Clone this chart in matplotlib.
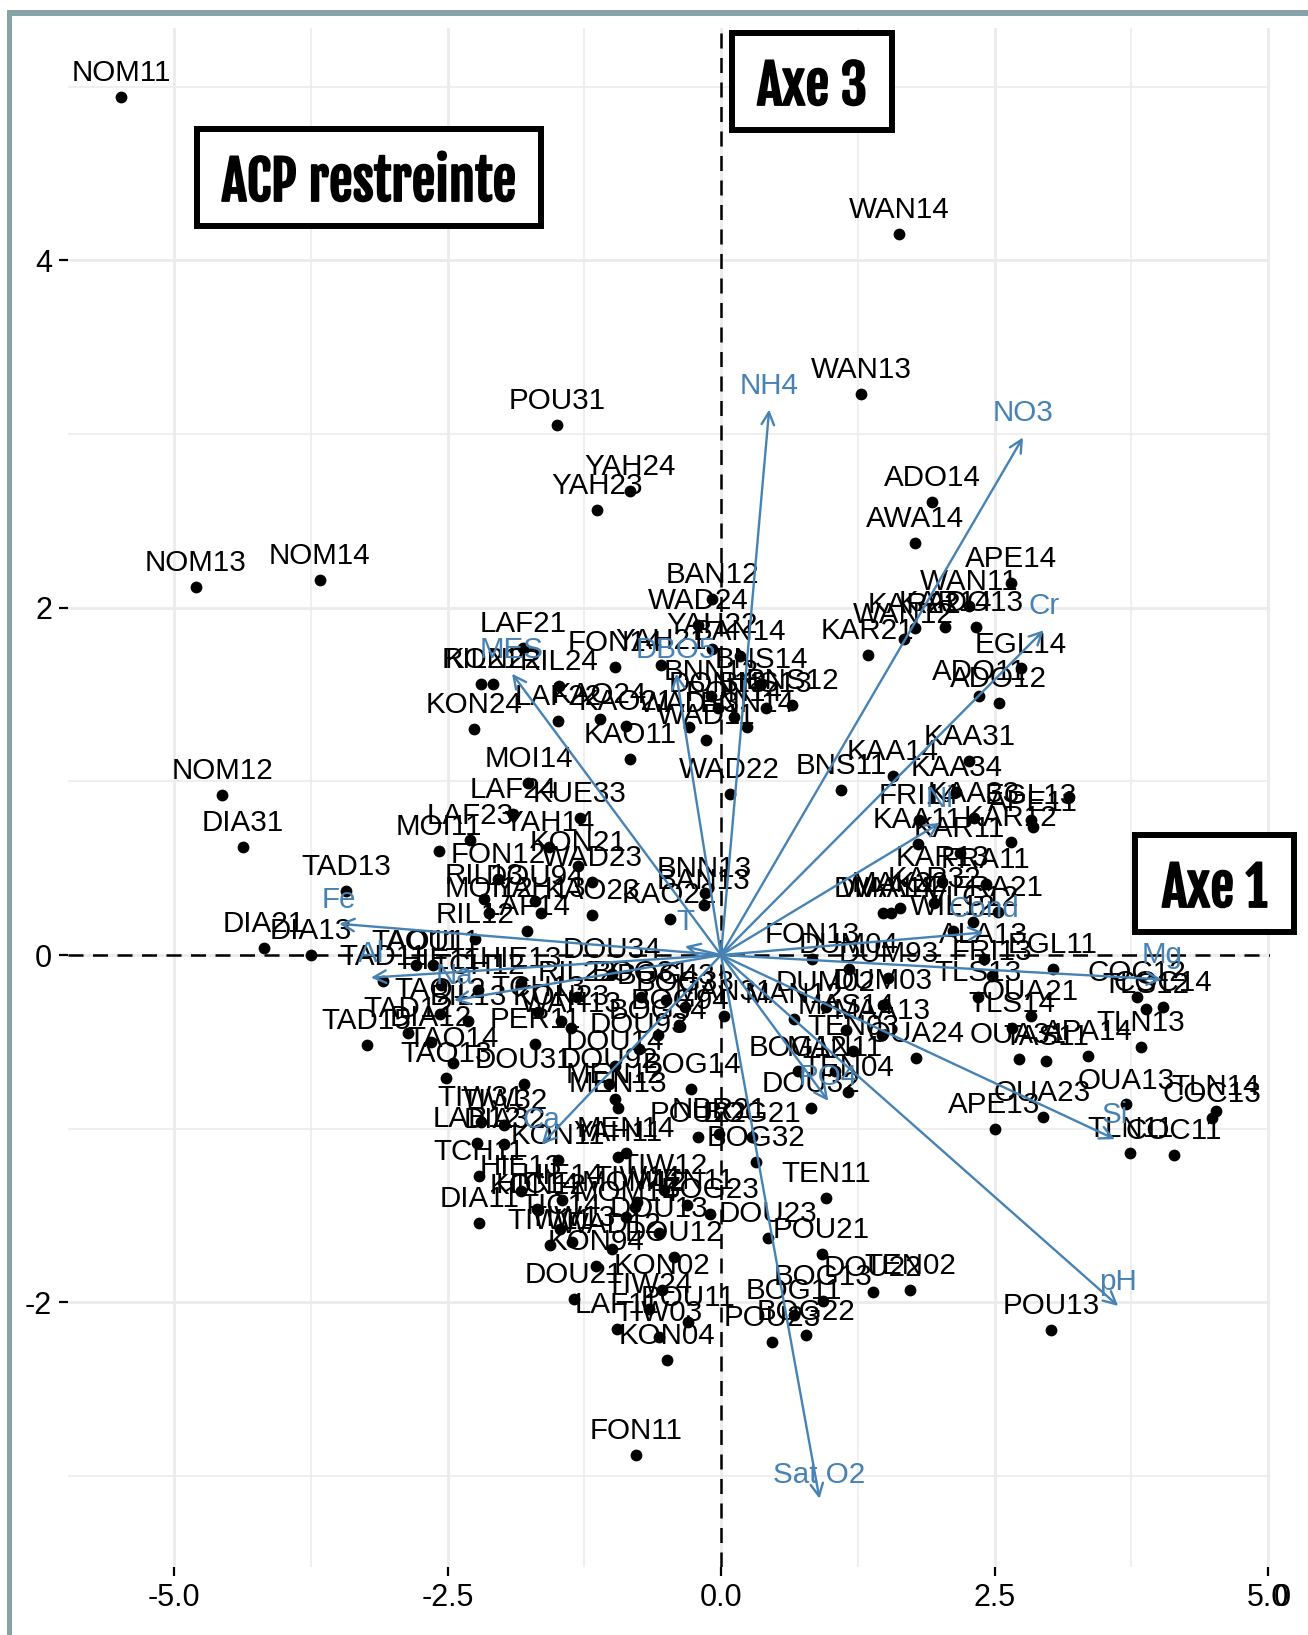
import matplotlib
matplotlib.use("Agg")
import matplotlib.pyplot as plt
import matplotlib.patheffects as pe
from matplotlib.patches import Rectangle

plt.rcParams['font.family'] = ['Liberation Sans', 'DejaVu Sans']

W, H = 1308, 1635

# observations (stations), same order in the three lists
obs_names = [
    'NOM11', 'WAN14', 'WAN13', 'POU31', 'YAH24', 'YAH23', 'ADO14', 'AWA14', 'NOM14', 'NOM13',
    'NOM12', 'DIA31', 'TAD13', 'DIA21', 'DIA13',
    'BAN12', 'WAD24', 'YAH22', 'BAN14', 'LAF21', 'FON14', 'YAH21', 'RIL21', 'KON22', 'RIL24',
    'KON24', 'LAF22', 'KAO24', 'KAO21', 'KAO11', 'WAD13', 'WAD11', 'BNN14', 'BNS12', 'BNS13',
    'BNS14', 'BNN12', 'DON13', 'PON14', 'WAD22', 'MOI14', 'LAF24', 'KUE33', 'LAF23', 'MOI11',
    'YAH14', 'KON21', 'FON12', 'WAD23', 'RIL13', 'DOU94', 'MOI12', 'YAH13', 'KAO23', 'KAO22',
    'BNN13', 'BAN13', 'LAF14', 'RIL12',
    'APE14', 'WAN11', 'ADO13', 'KAR22', 'WAN12', 'KAR14', 'KAR21', 'EGL14', 'ADO11', 'ADO12',
    'KAA31', 'KAA14', 'KAA34', 'BNS11', 'FRI14', 'KAA33', 'EGL13', 'APE11', 'KAA11', 'KAR11',
    'KAR12', 'KAR13', 'FRA11', 'DMA14', 'WAA14', 'MAK32', 'KAR32', 'FRA21', 'WIL12', 'VLG12',
    'ALA13', 'FRI13', 'EGL11', 'FON13', 'DUM04', 'DUM93', 'TLS13', 'COC12', 'COC14', 'TLS12',
    'DUM02', 'DUM03', 'OUA21', 'TLS14', 'MAN31', 'MAN12', 'MAS14', 'MAA13', 'TEN03', 'OUA24',
    'OUA31', 'TAS11', 'APA14', 'TLN13', 'BOG12', 'MAN11', 'TEN04', 'DOU32', 'OUA13', 'OUA23',
    'APE13', 'TLN14', 'COC13', 'TLN11', 'COC11', 'TEN11', 'BOG32', 'BOG21',
    'TAO11', 'AOU11', 'TAD11', 'HIE13', 'HIE11', 'TCH13', 'TAO12', 'BIL13', 'TCH12', 'KON23',
    'WAH13', 'TAD12', 'DIA12', 'TAD15', 'TAO14', 'TAO13', 'PER11', 'DOU31', 'DOU92', 'DOU14',
    'DOU93', 'BOG34', 'BOG94', 'BOG33', 'BOG43', 'BOG31', 'RIL22', 'MEN13', 'MEN12', 'BOG14',
    'TIW31', 'TIW32', 'LAB12', 'DIA32', 'TCH11', 'HIE13', 'KON11', 'YAH11', 'MEN14', 'TIW12',
    'POU22', 'NBR21', 'DOU34',
    'HIE14', 'KON12', 'DIA11', 'MOM12', 'MEN11', 'BOG23', 'TIW14', 'DOU13', 'DOU23', 'POU21',
    'DOU12', 'KON94', 'KON02', 'TIW11', 'TIW13', 'TIC14', 'WAD12', 'MOM14', 'HIC14', 'DOU21',
    'TIW24', 'LAF11', 'POU11', 'TIW03', 'KON04', 'DOU22', 'TEN02', 'BOG13', 'BOG11', 'BOG22',
    'POU23', 'FON11', 'POU13', '',
]
obs_x = [
    -5.48, 1.63, 1.28, -1.50, -0.83, -1.13, 1.93, 1.77, -3.67, -4.80,
    -4.56, -4.37, -3.43, -4.18, -3.75,
    -0.08, -0.21, -0.08, 0.17, -1.81, -0.97, -0.55, -2.19, -2.08, -1.48,
    -2.26, -1.49, -1.11, -0.87, -0.83, -0.29, -0.14, 0.24, 0.65, 0.41,
    0.37, -0.09, -0.03, 0.12, 0.08, -1.76, -1.90, -1.29, -2.29, -2.58,
    -1.57, -1.31, -2.04, -1.18, -2.17, -1.70, -2.12, -1.65, -1.18, -0.47,
    -0.15, -0.16, -1.77, -2.25,
    2.65, 2.27, 2.33, 1.77, 1.67, 2.05, 1.34, 2.74, 2.36, 2.54,
    2.27, 1.57, 2.15, 1.10, 1.81, 2.31, 2.83, 2.85, 1.80, 2.18,
    2.65, 2.02, 2.42, 1.48, 1.55, 1.64, 1.95, 2.53, 2.12, 2.30,
    2.40, 2.48, 3.03, 0.83, 1.17, 1.53, 2.35, 3.80, 4.04, 3.88,
    0.96, 1.48, 2.83, 2.66, 0.03, 0.67, 1.14, 1.47, 1.21, 1.78,
    2.72, 2.97, 3.35, 3.84, 0.70, 1.04, 1.16, 0.82, 3.70, 2.94,
    2.50, 4.52, 4.49, 3.74, 4.14, 0.96, 0.32, 0.28,
    -2.79, -2.63, -3.09, -1.83, -2.56, -1.67, -2.57, -2.31, -2.22, -1.46,
    -1.37, -2.86, -2.65, -3.24, -2.45, -2.51, -1.70, -1.80, -1.02, -0.97,
    -0.75, -0.58, -0.38, -0.33, -0.50, -0.73, -1.32, -0.94, -0.97, -0.27,
    -2.19, -1.98, -2.23, -1.98, -2.21, -1.83, -1.49, -0.94, -0.87, -0.52,
    -0.21, -0.02, -1.00,
    -1.45, -1.67, -2.21, -0.79, -0.31, -0.10, -0.77, -0.57, 0.43, 0.92,
    -0.43, -1.14, -0.54, -1.56, -1.36, -1.47, -1.00, -0.87, -1.68, -1.34,
    -0.66, -0.95, -0.30, -0.57, -0.49, 1.39, 1.73, 0.93, 0.67, 0.78,
    0.47, -0.78, 3.02, 3.18,
]
obs_y = [
    4.94, 4.15, 3.23, 3.05, 2.67, 2.56, 2.61, 2.37, 2.16, 2.12,
    0.92, 0.62, 0.37, 0.04, 0.00,
    2.05, 1.90, 1.76, 1.72, 1.77, 1.66, 1.67, 1.56, 1.56, 1.55,
    1.30, 1.35, 1.36, 1.32, 1.13, 1.31, 1.24, 1.31, 1.44, 1.42,
    1.56, 1.49, 1.42, 1.37, 0.93, 0.99, 0.81, 0.79, 0.66, 0.60,
    0.62, 0.51, 0.44, 0.42, 0.32, 0.31, 0.24, 0.24, 0.23, 0.21,
    0.36, 0.29, 0.14, 0.09,
    2.14, 2.01, 1.89, 1.88, 1.82, 1.89, 1.73, 1.65, 1.49, 1.45,
    1.12, 1.03, 0.94, 0.95, 0.78, 0.79, 0.78, 0.74, 0.64, 0.59,
    0.65, 0.42, 0.41, 0.24, 0.24, 0.27, 0.30, 0.25, 0.14, 0.19,
    -0.02, -0.12, -0.08, -0.02, -0.08, -0.13, -0.24, -0.24, -0.30, -0.31,
    -0.30, -0.29, -0.35, -0.42, -0.35, -0.37, -0.43, -0.46, -0.55, -0.59,
    -0.60, -0.61, -0.58, -0.53, -0.67, -0.67, -0.79, -0.88, -0.86, -0.93,
    -1.00, -0.90, -0.94, -1.14, -1.15, -1.40, -1.19, -1.05,
    -0.06, -0.06, -0.15, -0.16, -0.17, -0.33, -0.34, -0.38, -0.20, -0.38,
    -0.42, -0.45, -0.50, -0.52, -0.62, -0.71, -0.51, -0.74, -0.74, -0.64,
    -0.54, -0.46, -0.40, -0.30, -0.26, -0.24, -0.24, -0.88, -0.83, -0.77,
    -0.96, -0.98, -1.08, -1.09, -1.27, -1.36, -1.18, -1.16, -1.14, -1.35,
    -1.05, -1.03, -0.11,
    -1.41, -1.47, -1.54, -1.45, -1.44, -1.49, -1.42, -1.60, -1.63, -1.72,
    -1.74, -1.79, -1.93, -1.67, -1.65, -1.58, -1.69, -1.51, -1.46, -1.98,
    -2.04, -2.15, -2.11, -2.20, -2.33, -1.94, -1.93, -1.99, -2.07, -2.19,
    -2.23, -2.88, -2.16, 0.91,
]

# variables (arrows from the origin)
var_names = ['NH4', 'NO3', 'Cr', 'Ni', 'Cond', 'Mg', 'Si', 'pH', 'PO4', 'Sat_O2',
             'Ca', 'Na', 'Al', 'Fe', 'T', 'MES', 'DBO5']
var_x = [0.44, 2.76, 2.95, 2.00, 2.40, 4.03, 3.60, 3.63, 0.98, 0.90,
         -1.64, -2.44, -3.20, -3.49, -0.33, -1.91, -0.41]
var_y = [3.14, 2.98, 1.87, 0.76, 0.13, -0.14, -1.06, -2.02, -0.84, -3.13,
         -1.09, -0.26, -0.13, 0.18, 0.05, 1.62, 1.62]

x_ticks = [-5.0, -2.5, 0.0, 2.5, 5.0]
x_minor = [-3.75, -1.25, 1.25, 3.75]
y_ticks = [-2, 0, 2, 4]
y_minor = [-3, -1, 1, 3, 5]

NUDGE = 0.155
BLUE = '#4682B4'
FRAME = '#86A3A6'
BOX_FONT = ['Fjalla One', 'Liberation Sans']

fig = plt.figure(figsize=(W / 100, H / 100), dpi=100)
ax = fig.add_axes([68 / W, (H - 1567) / H, (1270 - 68) / W, (1567 - 28) / H])
ax.set_xlim(-5.969, 5.018)
ax.set_ylim(-3.523, 5.337)

for s in ax.spines.values():
    s.set_visible(False)

ax.set_xticks(x_ticks)
ax.set_xticklabels(['%.1f' % v for v in x_ticks])
ax.set_yticks(y_ticks)
ax.set_yticklabels(['%d' % v for v in y_ticks])
ax.set_xticks(x_minor, minor=True)
ax.set_yticks(y_minor, minor=True)
ax.tick_params(axis='both', which='major', labelsize=22, length=6.5, width=1.6, pad=5)
ax.tick_params(axis='both', which='minor', length=0)
ax.grid(which='major', color='#EBEBEB', lw=2.0)
ax.grid(which='minor', color='#EBEBEB', lw=1.1)
ax.set_axisbelow(True)

ax.axhline(0, color='black', lw=1.8, dashes=(6, 3.8), zorder=1.5)
ax.axvline(0, color='black', lw=1.8, dashes=(6, 3.8), zorder=1.5)

ax.scatter(obs_x, obs_y, s=72, color='black', linewidths=0, zorder=2)
for name, x, y in zip(obs_names, obs_x, obs_y):
    ax.text(x, y + NUDGE, name, fontsize=21.3, color='black', ha='center',
            va='center_baseline', zorder=3)

for name, x, y in zip(var_names, var_x, var_y):
    ax.annotate('', xy=(x, y), xytext=(0, 0), zorder=4,
                arrowprops=dict(arrowstyle='->,head_length=0.9,head_width=0.45', color=BLUE,
                                lw=1.7, shrinkA=0, shrinkB=0))
    ax.text(x, y + NUDGE, name.replace('_', ' '), fontsize=21.3, color=BLUE, ha='center',
            va='center_baseline', zorder=5)

# doubled glyph at the end of the x axis
ax.annotate('0', xy=(5.0, 0), xycoords=('data', 'axes fraction'), xytext=(10.5, -11.5),
            textcoords='offset points', fontsize=22, ha='center', va='top',
            annotation_clip=False)


def px_rect(x0, y0, x1, y1, **kw):
    fig.add_artist(Rectangle((x0 / W, 1 - y1 / H), (x1 - x0) / W, (y1 - y0) / H,
                             transform=fig.transFigure, **kw))


def title_box(x0, y0, x1, y1, text, size):
    px_rect(x0, y0, x1, y1, facecolor='white', edgecolor='black', lw=4.3, zorder=10)
    t = fig.text((x0 + x1) / 2 / W, 1 - (y0 + y1) / 2 / H, text, fontsize=size,
                 family=BOX_FONT, ha='center', va='center_baseline', zorder=11)
    # the face is not heavy enough on its own
    t.set_path_effects([pe.withStroke(linewidth=1.3, foreground='black')])


title_box(197, 129, 541, 226, 'ACP restreinte', 38.5)
title_box(732, 33, 892, 130, 'Axe 3', 38.5)
title_box(1135, 835, 1294, 932, 'Axe 1', 38.5)

# outer frame
px_rect(7, 10, W, 16, facecolor=FRAME, edgecolor='none', zorder=9)
px_rect(7, 10, 12, H, facecolor=FRAME, edgecolor='none', zorder=9)

fig.savefig('out.png', dpi=100)
